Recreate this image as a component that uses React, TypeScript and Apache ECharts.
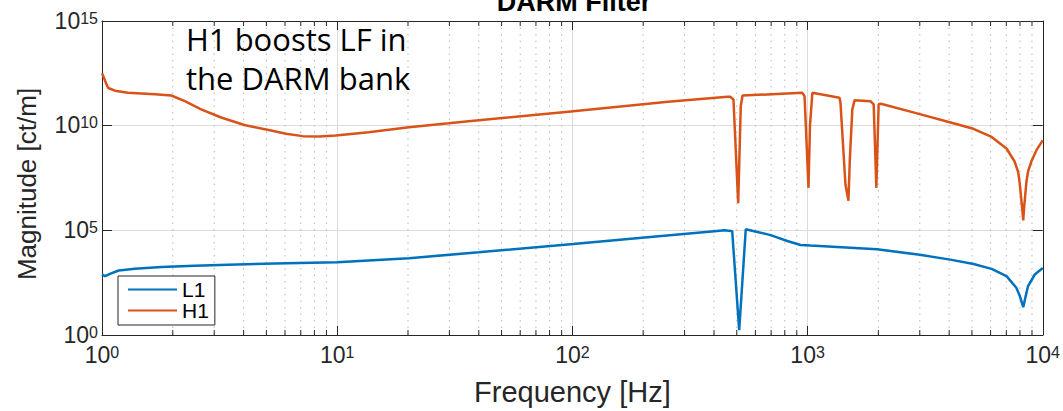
import React, { useEffect, useRef } from 'react';
import * as echarts from 'echarts';

// Frequency axis decades (exponents of 10) and magnitude axis decades.
const freqDecades = [0, 1, 2, 3, 4];
const magDecades = [0, 5, 10, 15];
// Minor frequency ticks inside each decade (2..9 × 10^n).
const minorMultipliers = [2, 3, 4, 5, 6, 7, 8, 9];

// L1 DARM filter: frequency [Hz] and log10 of magnitude [ct/m].
const l1Freq = [
  1.0, 1.03, 1.081, 1.177, 1.38, 1.79, 2.48, 3.43, 5.41, 10.0, 20.2, 39.9, 100.8,
  203, 402, 443, 472, 478, 512, 546, 593, 697, 820, 934, 1030, 1973, 3000, 4040,
  5080, 6060, 7010, 7720, 7980, 8260, 8470, 8660, 9250, 10000,
];
const l1LogMag = [
  2.89, 2.81, 2.92, 3.08, 3.17, 3.25, 3.31, 3.36, 3.42, 3.47, 3.67, 3.95, 4.35,
  4.66, 4.96, 5.0, 4.97, 4.96, 0.23, 5.05, 4.96, 4.77, 4.49, 4.3, 4.27, 4.1, 3.83, 3.6,
  3.39, 3.16, 2.81, 2.26, 1.88, 1.33, 1.88, 2.34, 2.89, 3.2,
];

// H1 DARM filter: frequency [Hz] and log10 of magnitude [ct/m].
const h1Freq = [
  1.0, 1.02, 1.047, 1.063, 1.135, 1.29, 1.68, 1.97, 2.25, 2.64, 3.21, 4.03, 5.23,
  6.06, 7.12, 8.38, 9.86, 13.6, 20.2, 29.8, 36.2, 96, 255, 457, 469, 484, 507, 520,
  529, 949, 971, 1009, 1024, 1048, 1367, 1380, 1449, 1492, 1513, 1550, 1585, 1850,
  1910, 1961, 2005, 2051, 3000, 4020, 5070, 6060, 7010, 7580, 7850, 7960, 8170,
  8260, 8330, 8530, 8660, 8950, 9400, 10000,
];
const h1LogMag = [
  12.5, 12.28, 11.95, 11.8, 11.67, 11.57, 11.5, 11.44, 11.17, 10.78, 10.39, 10.03, 9.77,
  9.61, 9.5, 9.48, 9.53, 9.69, 9.92, 10.11, 10.21, 10.67, 11.14, 11.38, 11.38, 11.25, 6.3, 10.94,
  11.44, 11.57, 11.41, 7.03, 10.0, 11.57, 11.33, 11.1, 7.19, 6.41, 8.44, 10.78, 11.22, 11.17,
  11.02, 7.03, 11.02, 11.05, 10.55, 10.16, 9.85, 9.46, 8.91, 8.3, 7.81, 7.36, 6.09,
  5.47, 6.09, 7.36, 7.81, 8.3, 8.83, 9.3,
];

const seriesNames = ['L1', 'H1'];
const seriesColors = ['#0072BD', '#D95319'];

const FONT = '"Liberation Sans", Arial, Helvetica, sans-serif';
const INK = '#262626';

const X_MIN = freqDecades[0];
const X_MAX = freqDecades[freqDecades.length - 1];
const Y_MIN = magDecades[0];
const Y_MAX = magDecades[magDecades.length - 1];

const minorLogFreqs: number[] = [];
freqDecades.slice(0, -1).forEach((d) => {
  minorMultipliers.forEach((m) => minorLogFreqs.push(d + Math.log10(m)));
});

const toPoints = (freq: number[], logMag: number[]) =>
  freq.map((f, i) => [Math.log10(f), logMag[i]]);

const powerLabel = (v: number) => `{b|10}{s|${Math.round(v)}}`;
const powerRich = {
  b: { fontSize: 23, lineHeight: 22, verticalAlign: 'bottom', color: INK, fontFamily: FONT },
  s: {
    fontSize: 16,
    lineHeight: 16,
    verticalAlign: 'top',
    padding: [0, 0, 12, 0],
    color: INK,
    fontFamily: FONT,
  },
};

export default function App() {
  const ref = useRef<HTMLDivElement>(null);

  useEffect(() => {
    if (!ref.current) return;
    const chart = echarts.init(ref.current, null, { renderer: 'svg' });

    const boxAxisLine = { show: true, onZero: false, lineStyle: { color: INK, width: 1 } };

    chart.setOption({
      animation: false,
      backgroundColor: '#ffffff',
      grid: { left: 102, right: 16, top: 21, bottom: 71.5, show: false },
      legend: {
        data: seriesNames,
        orient: 'vertical',
        left: 118,
        top: 276,
        itemWidth: 49,
        itemHeight: 21,
        itemGap: 0,
        padding: [3, 6, 4, 9],
        borderColor: INK,
        borderWidth: 1,
        backgroundColor: '#ffffff',
        // keep only the line sample in each legend entry
        itemStyle: { opacity: 0 },
        textStyle: { fontSize: 21, lineHeight: 21, color: '#000', fontFamily: FONT },
        selectedMode: false,
      },
      xAxis: [
        {
          type: 'value',
          min: X_MIN,
          max: X_MAX,
          interval: 1,
          position: 'bottom',
          axisLine: boxAxisLine,
          axisTick: { show: true, inside: true, length: 9, lineStyle: { color: INK } },
          axisLabel: { formatter: powerLabel, rich: powerRich, margin: 9 },
          splitLine: { show: true, lineStyle: { color: '#dcdcdc', width: 1 } },
          name: 'Frequency [Hz]',
          nameLocation: 'middle',
          nameGap: 42,
          nameTextStyle: { fontSize: 29, color: INK, fontFamily: FONT },
        },
        {
          type: 'value',
          min: X_MIN,
          max: X_MAX,
          interval: 1,
          position: 'top',
          axisLine: boxAxisLine,
          axisTick: { show: true, inside: true, length: 9, lineStyle: { color: INK } },
          axisLabel: { show: false },
          splitLine: { show: false },
        },
      ],
      yAxis: [
        {
          type: 'value',
          min: Y_MIN,
          max: Y_MAX,
          interval: 5,
          position: 'left',
          axisLine: boxAxisLine,
          axisTick: { show: true, inside: true, length: 10, lineStyle: { color: INK } },
          axisLabel: { formatter: powerLabel, rich: powerRich, margin: 4 },
          splitLine: { show: true, lineStyle: { color: '#dcdcdc', width: 1 } },
          name: 'Magnitude [ct/m]',
          nameLocation: 'middle',
          nameRotate: 90,
          nameGap: 62,
          nameTextStyle: { fontSize: 26, color: INK, fontFamily: FONT, padding: [0, 12, 0, 0] },
        },
        {
          type: 'value',
          min: Y_MIN,
          max: Y_MAX,
          interval: 5,
          position: 'right',
          axisLine: boxAxisLine,
          axisTick: { show: true, inside: true, length: 10, lineStyle: { color: INK } },
          axisLabel: { show: false },
          splitLine: { show: false },
        },
      ],
      series: [
        {
          // dotted minor grid lines plus short minor ticks on the top and bottom edges
          type: 'custom',
          name: 'minor',
          xAxisIndex: 0,
          yAxisIndex: 0,
          silent: true,
          z: 1,
          data: minorLogFreqs.map((v) => [v, Y_MIN]),
          renderItem: (_params: any, api: any) => {
            const x = api.value(0);
            const top = api.coord([x, Y_MAX]);
            const bottom = api.coord([x, Y_MIN]);
            return {
              type: 'group',
              children: [
                {
                  type: 'line',
                  shape: { x1: top[0], y1: top[1], x2: bottom[0], y2: bottom[1] },
                  style: { stroke: '#b8b8b8', lineWidth: 1, lineDash: [1.5, 5] },
                },
                {
                  type: 'line',
                  shape: { x1: bottom[0], y1: bottom[1], x2: bottom[0], y2: bottom[1] - 5 },
                  style: { stroke: INK, lineWidth: 1 },
                },
                {
                  type: 'line',
                  shape: { x1: top[0], y1: top[1], x2: top[0], y2: top[1] + 5 },
                  style: { stroke: INK, lineWidth: 1 },
                },
              ],
            };
          },
        },
        {
          type: 'line',
          name: seriesNames[0],
          data: toPoints(l1Freq, l1LogMag),
          showSymbol: false,
          symbol: 'none',
          z: 3,
          lineStyle: { color: seriesColors[0], width: 2.5 },
          itemStyle: { color: seriesColors[0] },
        },
        {
          type: 'line',
          name: seriesNames[1],
          data: toPoints(h1Freq, h1LogMag),
          showSymbol: false,
          symbol: 'none',
          z: 3,
          lineStyle: { color: seriesColors[1], width: 2.5 },
          itemStyle: { color: seriesColors[1] },
        },
      ],
      graphic: [
        {
          type: 'text',
          x: 574,
          y: 15,
          z: 10,
          style: {
            text: 'DARM Filter',
            font: `bold 27px ${FONT}`,
            fill: '#000',
            align: 'center',
            verticalAlign: 'bottom',
          },
        },
        {
          type: 'text',
          x: 186,
          y: 19,
          z: 10,
          style: {
            text: 'H1 boosts LF in\nthe DARM bank',
            font: '31px "Open Sans", "Noto Sans", sans-serif',
            lineHeight: 39,
            fill: '#000',
          },
        },
      ],
    });

    return () => chart.dispose();
  }, []);

  return (
    <div
      ref={ref}
      style={{ position: 'absolute', left: 0, top: 0, width: 1063, height: 411, background: '#fff' }}
    />
  );
}
